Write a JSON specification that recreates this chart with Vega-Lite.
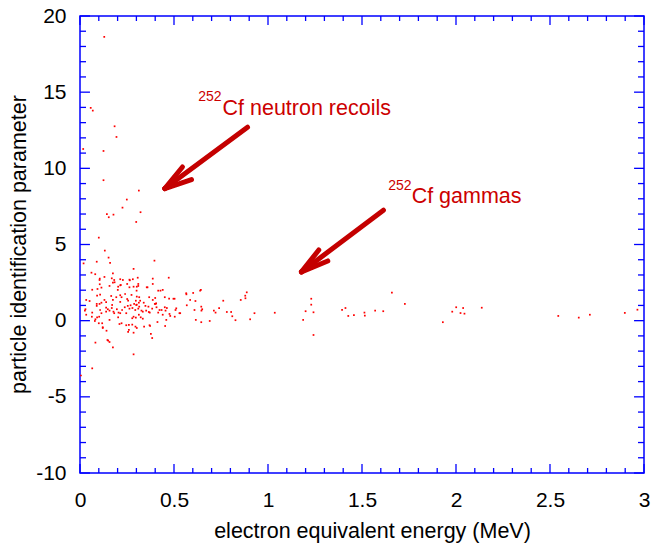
{
  "$schema": "https://vega.github.io/schema/vega-lite/v6.json",
  "autosize": {"type": "none"},
  "padding": {"left": 80, "top": 16, "right": 7, "bottom": 73},
  "width": 564,
  "height": 457,
  "background": "#ffffff",
  "config": {
    "view": {"stroke": "#0000ff", "strokeWidth": 1.5},
    "font": "Liberation Sans",
    "axis": {"grid": false, "domain": false, "labelFont": "Liberation Sans", "titleFont": "Liberation Sans", "labelColor": "#000000", "titleColor": "#000000", "titleFontWeight": "normal"}
  },
  "datasets": {
    "xticks": [
      {"v":0,"from":-10,"to":-9.41},{"v":0.5,"from":-10,"to":-9.41},{"v":1,"from":-10,"to":-9.41},{"v":1.5,"from":-10,"to":-9.41},{"v":2,"from":-10,"to":-9.41},{"v":2.5,"from":-10,"to":-9.41},{"v":3,"from":-10,"to":-9.41},
      {"v":0,"from":20,"to":19.41},{"v":0.5,"from":20,"to":19.41},{"v":1,"from":20,"to":19.41},{"v":1.5,"from":20,"to":19.41},{"v":2,"from":20,"to":19.41},{"v":2.5,"from":20,"to":19.41},{"v":3,"from":20,"to":19.41},
      {"v":0.1,"from":-10,"to":-9.67},{"v":0.2,"from":-10,"to":-9.67},{"v":0.3,"from":-10,"to":-9.67},{"v":0.4,"from":-10,"to":-9.67},{"v":0.6,"from":-10,"to":-9.67},{"v":0.7,"from":-10,"to":-9.67},{"v":0.8,"from":-10,"to":-9.67},{"v":0.9,"from":-10,"to":-9.67},{"v":1.1,"from":-10,"to":-9.67},{"v":1.2,"from":-10,"to":-9.67},{"v":1.3,"from":-10,"to":-9.67},{"v":1.4,"from":-10,"to":-9.67},{"v":1.6,"from":-10,"to":-9.67},{"v":1.7,"from":-10,"to":-9.67},{"v":1.8,"from":-10,"to":-9.67},{"v":1.9,"from":-10,"to":-9.67},{"v":2.1,"from":-10,"to":-9.67},{"v":2.2,"from":-10,"to":-9.67},{"v":2.3,"from":-10,"to":-9.67},{"v":2.4,"from":-10,"to":-9.67},{"v":2.6,"from":-10,"to":-9.67},{"v":2.7,"from":-10,"to":-9.67},{"v":2.8,"from":-10,"to":-9.67},{"v":2.9,"from":-10,"to":-9.67},
      {"v":0.1,"from":20,"to":19.67},{"v":0.2,"from":20,"to":19.67},{"v":0.3,"from":20,"to":19.67},{"v":0.4,"from":20,"to":19.67},{"v":0.6,"from":20,"to":19.67},{"v":0.7,"from":20,"to":19.67},{"v":0.8,"from":20,"to":19.67},{"v":0.9,"from":20,"to":19.67},{"v":1.1,"from":20,"to":19.67},{"v":1.2,"from":20,"to":19.67},{"v":1.3,"from":20,"to":19.67},{"v":1.4,"from":20,"to":19.67},{"v":1.6,"from":20,"to":19.67},{"v":1.7,"from":20,"to":19.67},{"v":1.8,"from":20,"to":19.67},{"v":1.9,"from":20,"to":19.67},{"v":2.1,"from":20,"to":19.67},{"v":2.2,"from":20,"to":19.67},{"v":2.3,"from":20,"to":19.67},{"v":2.4,"from":20,"to":19.67},{"v":2.6,"from":20,"to":19.67},{"v":2.7,"from":20,"to":19.67},{"v":2.8,"from":20,"to":19.67},{"v":2.9,"from":20,"to":19.67}
    ],
    "yticks": [
      {"v":-10,"from":0,"to":0.053},{"v":-5,"from":0,"to":0.053},{"v":0,"from":0,"to":0.053},{"v":5,"from":0,"to":0.053},{"v":10,"from":0,"to":0.053},{"v":15,"from":0,"to":0.053},{"v":20,"from":0,"to":0.053},
      {"v":-10,"from":3,"to":2.947},{"v":-5,"from":3,"to":2.947},{"v":0,"from":3,"to":2.947},{"v":5,"from":3,"to":2.947},{"v":10,"from":3,"to":2.947},{"v":15,"from":3,"to":2.947},{"v":20,"from":3,"to":2.947},
      {"v":-9,"from":0,"to":0.032},{"v":-8,"from":0,"to":0.032},{"v":-7,"from":0,"to":0.032},{"v":-6,"from":0,"to":0.032},{"v":-4,"from":0,"to":0.032},{"v":-3,"from":0,"to":0.032},{"v":-2,"from":0,"to":0.032},{"v":-1,"from":0,"to":0.032},{"v":1,"from":0,"to":0.032},{"v":2,"from":0,"to":0.032},{"v":3,"from":0,"to":0.032},{"v":4,"from":0,"to":0.032},{"v":6,"from":0,"to":0.032},{"v":7,"from":0,"to":0.032},{"v":8,"from":0,"to":0.032},{"v":9,"from":0,"to":0.032},{"v":11,"from":0,"to":0.032},{"v":12,"from":0,"to":0.032},{"v":13,"from":0,"to":0.032},{"v":14,"from":0,"to":0.032},{"v":16,"from":0,"to":0.032},{"v":17,"from":0,"to":0.032},{"v":18,"from":0,"to":0.032},{"v":19,"from":0,"to":0.032},
      {"v":-9,"from":3,"to":2.968},{"v":-8,"from":3,"to":2.968},{"v":-7,"from":3,"to":2.968},{"v":-6,"from":3,"to":2.968},{"v":-4,"from":3,"to":2.968},{"v":-3,"from":3,"to":2.968},{"v":-2,"from":3,"to":2.968},{"v":-1,"from":3,"to":2.968},{"v":1,"from":3,"to":2.968},{"v":2,"from":3,"to":2.968},{"v":3,"from":3,"to":2.968},{"v":4,"from":3,"to":2.968},{"v":6,"from":3,"to":2.968},{"v":7,"from":3,"to":2.968},{"v":8,"from":3,"to":2.968},{"v":9,"from":3,"to":2.968},{"v":11,"from":3,"to":2.968},{"v":12,"from":3,"to":2.968},{"v":13,"from":3,"to":2.968},{"v":14,"from":3,"to":2.968},{"v":16,"from":3,"to":2.968},{"v":17,"from":3,"to":2.968},{"v":18,"from":3,"to":2.968},{"v":19,"from":3,"to":2.968}
    ],
    "points": [
      {"energy":0.129,"pid":18.63},{"energy":0.057,"pid":13.97},{"energy":0.068,"pid":13.79},{"energy":0.184,"pid":12.76},{"energy":0.194,"pid":12.06},{"energy":0.017,"pid":11.27},{"energy":0.125,"pid":11.14},{"energy":0.125,"pid":9.22},{"energy":0.313,"pid":8.54},{"energy":0.249,"pid":7.95},{"energy":0.226,"pid":7.42},{"energy":0.322,"pid":7.12},{"energy":0.143,"pid":7.0},{"energy":0.153,"pid":6.79},{"energy":0.178,"pid":6.96},{"energy":0.299,"pid":6.48},{"energy":0.1,"pid":5.45},{"energy":0.132,"pid":4.6},{"energy":0.019,"pid":3.76},
      {"energy":0.089,"pid":3.87},{"energy":0.152,"pid":4.14},{"energy":0.16,"pid":3.8},{"energy":0.396,"pid":3.94},{"energy":0.285,"pid":3.4},{"energy":0.061,"pid":3.15},{"energy":0.081,"pid":3.05},{"energy":0.175,"pid":3.11},{"energy":0.105,"pid":2.76},{"energy":0.13,"pid":2.87},{"energy":0.169,"pid":2.78},{"energy":0.182,"pid":2.67},{"energy":0.214,"pid":2.72},{"energy":0.228,"pid":2.67},{"energy":0.263,"pid":2.69},{"energy":0.307,"pid":2.82},{"energy":0.387,"pid":2.76},{"energy":0.472,"pid":2.82},
      {"energy":0.065,"pid":2.03},{"energy":0.105,"pid":2.39},{"energy":0.114,"pid":2.17},{"energy":0.093,"pid":2.08},{"energy":0.157,"pid":2.28},{"energy":0.184,"pid":2.52},{"energy":0.203,"pid":2.23},{"energy":0.214,"pid":2.32},{"energy":0.201,"pid":2.02},{"energy":0.251,"pid":2.41},{"energy":0.265,"pid":2.65},{"energy":0.263,"pid":2.19},{"energy":0.285,"pid":2.23},{"energy":0.302,"pid":2.23},{"energy":0.31,"pid":2.41},{"energy":0.301,"pid":1.97},{"energy":0.355,"pid":2.19},{"energy":0.387,"pid":2.41},{"energy":0.416,"pid":1.97},{"energy":0.428,"pid":1.97},
      {"energy":0.033,"pid":1.36},{"energy":0.051,"pid":1.29},{"energy":0.091,"pid":1.64},{"energy":0.107,"pid":1.71},{"energy":0.139,"pid":1.21},{"energy":0.166,"pid":1.62},{"energy":0.175,"pid":1.36},{"energy":0.193,"pid":1.54},{"energy":0.214,"pid":1.67},{"energy":0.221,"pid":1.54},{"energy":0.24,"pid":1.75},{"energy":0.251,"pid":1.42},{"energy":0.274,"pid":1.69},{"energy":0.297,"pid":1.31},{"energy":0.302,"pid":1.58},{"energy":0.315,"pid":1.54},{"energy":0.32,"pid":1.31},{"energy":0.339,"pid":1.18},{"energy":0.368,"pid":1.54},{"energy":0.387,"pid":1.36},{"energy":0.4,"pid":1.49},{"energy":0.405,"pid":1.14},{"energy":0.451,"pid":1.54},{"energy":0.474,"pid":1.44},{"energy":0.497,"pid":1.44},{"energy":0.503,"pid":1.44},{"energy":0.566,"pid":1.73},{"energy":0.586,"pid":1.36},{"energy":0.602,"pid":1.82},{"energy":0.643,"pid":2.02},{"energy":0.887,"pid":1.86},{"energy":0.879,"pid":1.64},{"energy":0.855,"pid":1.36},{"energy":0.762,"pid":1.31},{"energy":0.614,"pid":1.29},{"energy":0.645,"pid":0.92},{"energy":0.65,"pid":0.75},{"energy":0.712,"pid":0.66},{"energy":0.721,"pid":0.53},{"energy":0.74,"pid":0.83},{"energy":0.781,"pid":0.57},{"energy":0.804,"pid":0.57},{"energy":0.81,"pid":0.29},{"energy":0.69,"pid":-0.02},{"energy":0.827,"pid":0.03},{"energy":0.905,"pid":0.09},{"energy":0.928,"pid":0.49},{"energy":1.036,"pid":0.52},{"energy":0.616,"pid":0.05},{"energy":0.645,"pid":-0.1},{"energy":1.187,"pid":0.05},{"energy":1.2,"pid":0.62},{"energy":1.23,"pid":1.44},{"energy":1.23,"pid":1.05},{"energy":1.242,"pid":0.55},{"energy":1.242,"pid":-0.94},{"energy":1.394,"pid":0.71},{"energy":1.412,"pid":0.83},{"energy":1.427,"pid":0.31},{"energy":1.457,"pid":0.37},{"energy":1.513,"pid":0.53},{"energy":1.515,"pid":0.33},{"energy":1.57,"pid":0.66},{"energy":1.613,"pid":0.62},{"energy":1.659,"pid":1.84},{"energy":1.728,"pid":1.1},{"energy":1.93,"pid":-0.1},{"energy":1.98,"pid":0.59},{"energy":2.001,"pid":0.88},{"energy":2.024,"pid":0.5},{"energy":2.038,"pid":0.83},{"energy":2.045,"pid":0.46},{"energy":2.137,"pid":0.85},{"energy":2.544,"pid":0.31},{"energy":2.653,"pid":0.2},{"energy":2.712,"pid":0.39},{"energy":2.898,"pid":0.51},{"energy":2.965,"pid":0.72},
      {"energy":0.026,"pid":0.66},{"energy":0.033,"pid":0.39},{"energy":0.063,"pid":0.26},{"energy":0.091,"pid":0.22},{"energy":0.102,"pid":0.26},{"energy":0.089,"pid":1.1},{"energy":0.104,"pid":1.1},{"energy":0.114,"pid":0.49},{"energy":0.139,"pid":0.85},{"energy":0.148,"pid":0.75},{"energy":0.157,"pid":0.66},{"energy":0.169,"pid":0.83},{"energy":0.178,"pid":0.59},{"energy":0.196,"pid":0.75},{"energy":0.205,"pid":0.53},{"energy":0.214,"pid":0.49},{"energy":0.238,"pid":0.88},{"energy":0.254,"pid":0.97},{"energy":0.269,"pid":1.01},{"energy":0.279,"pid":0.83},{"energy":0.288,"pid":1.1},{"energy":0.294,"pid":0.7},{"energy":0.302,"pid":1.05},{"energy":0.313,"pid":1.18},{"energy":0.315,"pid":0.92},{"energy":0.327,"pid":0.66},{"energy":0.285,"pid":0.26},{"energy":0.297,"pid":0.2},{"energy":0.313,"pid":0.39},{"energy":0.334,"pid":0.13},{"energy":0.348,"pid":0.97},{"energy":0.352,"pid":0.66},{"energy":0.364,"pid":0.92},{"energy":0.371,"pid":0.53},{"energy":0.398,"pid":1.1},{"energy":0.407,"pid":0.88},{"energy":0.423,"pid":0.7},{"energy":0.44,"pid":0.39},{"energy":0.455,"pid":0.66},{"energy":0.462,"pid":0.83},{"energy":0.476,"pid":0.44},{"energy":0.504,"pid":0.26},{"energy":0.533,"pid":0.49},{"energy":0.512,"pid":0.81},
      {"energy":0.079,"pid":-0.02},{"energy":0.082,"pid":0.09},{"energy":0.1,"pid":-0.17},{"energy":0.118,"pid":-0.17},{"energy":0.121,"pid":-0.48},{"energy":0.21,"pid":-0.22},{"energy":0.221,"pid":-0.17},{"energy":0.246,"pid":-0.3},{"energy":0.256,"pid":-0.74},{"energy":0.26,"pid":-0.28},{"energy":0.278,"pid":-0.26},{"energy":0.285,"pid":-0.79},{"energy":0.295,"pid":-0.39},{"energy":0.302,"pid":-0.48},{"energy":0.341,"pid":-0.39},{"energy":0.37,"pid":-0.3},{"energy":0.377,"pid":-0.87},{"energy":0.384,"pid":-1.14},{"energy":0.412,"pid":-0.09},{"energy":0.459,"pid":0.05},{"energy":0.453,"pid":-0.35},{"energy":0.082,"pid":-1.44},{"energy":0.15,"pid":-1.31},{"energy":0.157,"pid":-1.4},{"energy":0.175,"pid":-1.75},{"energy":0.285,"pid":-2.21},{"energy":0.141,"pid":-0.66},{"energy":0.065,"pid":-3.13},{"energy":0.005,"pid":-3.6},
      {"energy":0.029,"pid":0.75},{"energy":0.065,"pid":0.53},{"energy":0.089,"pid":0.97},{"energy":0.107,"pid":0.7},{"energy":0.114,"pid":1.18},{"energy":0.13,"pid":1.36},{"energy":0.139,"pid":0.59},{"energy":0.157,"pid":0.05},{"energy":0.171,"pid":1.03},{"energy":0.182,"pid":0.49},{"energy":0.203,"pid":0.22},{"energy":0.214,"pid":1.23},{"energy":0.224,"pid":0.7},{"energy":0.246,"pid":0.49},{"energy":0.256,"pid":1.31},{"energy":0.263,"pid":0.79},{"energy":0.278,"pid":0.16},{"energy":0.299,"pid":1.03},{"energy":0.31,"pid":0.79},{"energy":0.323,"pid":0.22},{"energy":0.334,"pid":0.59},{"energy":0.366,"pid":0.57},{"energy":0.384,"pid":0.79},{"energy":0.402,"pid":1.1},{"energy":0.416,"pid":0.53},{"energy":0.434,"pid":0.7},{"energy":0.451,"pid":0.88},{"energy":0.48,"pid":0.31},{"energy":0.508,"pid":0.7},{"energy":0.529,"pid":0.49},{"energy":0.568,"pid":1.01},{"energy":0.609,"pid":0.7},{"energy":0.646,"pid":0.66},
      {"energy":0.104,"pid":2.67},{"energy":0.175,"pid":2.5},{"energy":0.217,"pid":2.34},{"energy":0.281,"pid":2.72},{"energy":0.31,"pid":2.28},{"energy":0.359,"pid":2.19},{"energy":0.44,"pid":2.02},{"energy":0.565,"pid":1.8},{"energy":0.639,"pid":1.97},{"energy":0.88,"pid":1.47},
      {"energy":0.121,"pid":-0.43},{"energy":0.146,"pid":-1.27},{"energy":0.26,"pid":-0.61},{"energy":0.373,"pid":-0.35}
    ],
    "arrows": [
      {"x":0.891,"y":12.70,"x2":0.451,"y2":8.67},
      {"x":0.545,"y":10.09,"x2":0.451,"y2":8.67},
      {"x":0.593,"y":9.26,"x2":0.451,"y2":8.67},
      {"x":1.614,"y":7.25,"x2":1.178,"y2":3.20},
      {"x":1.270,"y":4.64,"x2":1.178,"y2":3.20},
      {"x":1.318,"y":3.92,"x2":1.178,"y2":3.20}
    ],
    "labels": [
      {"x":0.758,"y":13.51,"text":"Cf neutron recoils"},
      {"x":1.764,"y":7.71,"text":"Cf gammas"}
    ],
    "sups": [
      {"x":0.629,"y":14.41,"text":"252"},
      {"x":1.639,"y":8.56,"text":"252"}
    ]
  },
  "layer": [
    {
      "data": {"name": "points"},
      "mark": {"type": "point", "shape": "square", "filled": true, "size": 3, "color": "#ff0000", "opacity": 1, "strokeWidth": 0},
      "encoding": {
        "x": {"field": "energy", "type": "quantitative", "scale": {"domain": [0, 3], "nice": false},
          "axis": {"orient": "bottom", "title": "electron equivalent energy (MeV)", "values": [0, 0.5, 1, 1.5, 2, 2.5, 3], "labelExpr": "'' + datum.value", "ticks": false, "labelFontSize": 21, "labelBaseline": "alphabetic", "labelPadding": 33, "labelFlush": false, "labelOverlap": false, "titleFontSize": 21.5, "titleBaseline": "alphabetic", "titleX": 292, "titleY": 64}},
        "y": {"field": "pid", "type": "quantitative", "scale": {"domain": [-10, 20], "nice": false, "zero": false},
          "axis": {"orient": "left", "title": "particle identification parameter", "values": [-10, -5, 0, 5, 10, 15, 20], "labelExpr": "'' + datum.value", "ticks": false, "labelFontSize": 21, "labelPadding": 14, "labelFlush": false, "labelOverlap": false, "titleFontSize": 21.5, "titleBaseline": "alphabetic", "titleX": -55, "titleY": 228}}
      }
    },
    {
      "data": {"name": "xticks"},
      "mark": {"type": "rule", "color": "#0000ff", "strokeWidth": 1.3},
      "encoding": {
        "x": {"field": "v", "type": "quantitative", "axis": null},
        "x2": {"field": "v"},
        "y": {"field": "from", "type": "quantitative", "axis": null},
        "y2": {"field": "to"}
      }
    },
    {
      "data": {"name": "yticks"},
      "mark": {"type": "rule", "color": "#0000ff", "strokeWidth": 1.3},
      "encoding": {
        "y": {"field": "v", "type": "quantitative", "axis": null},
        "y2": {"field": "v"},
        "x": {"field": "from", "type": "quantitative", "axis": null},
        "x2": {"field": "to"}
      }
    },
    {
      "data": {"name": "arrows"},
      "mark": {"type": "rule", "color": "#c40000", "strokeWidth": 5, "strokeCap": "round"},
      "encoding": {
        "x": {"field": "x", "type": "quantitative", "axis": null},
        "y": {"field": "y", "type": "quantitative", "axis": null},
        "x2": {"field": "x2"},
        "y2": {"field": "y2"}
      }
    },
    {
      "data": {"name": "labels"},
      "mark": {"type": "text", "align": "left", "baseline": "alphabetic", "fontSize": 21.5, "font": "Liberation Sans", "color": "#cc0000"},
      "encoding": {
        "x": {"field": "x", "type": "quantitative", "axis": null},
        "y": {"field": "y", "type": "quantitative", "axis": null},
        "text": {"field": "text"}
      }
    },
    {
      "data": {"name": "sups"},
      "mark": {"type": "text", "align": "left", "baseline": "alphabetic", "fontSize": 14, "font": "Liberation Sans", "color": "#cc0000"},
      "encoding": {
        "x": {"field": "x", "type": "quantitative", "axis": null},
        "y": {"field": "y", "type": "quantitative", "axis": null},
        "text": {"field": "text"}
      }
    }
  ],
  "resolve": {"axis": {"x": "independent", "y": "independent"}}
}
